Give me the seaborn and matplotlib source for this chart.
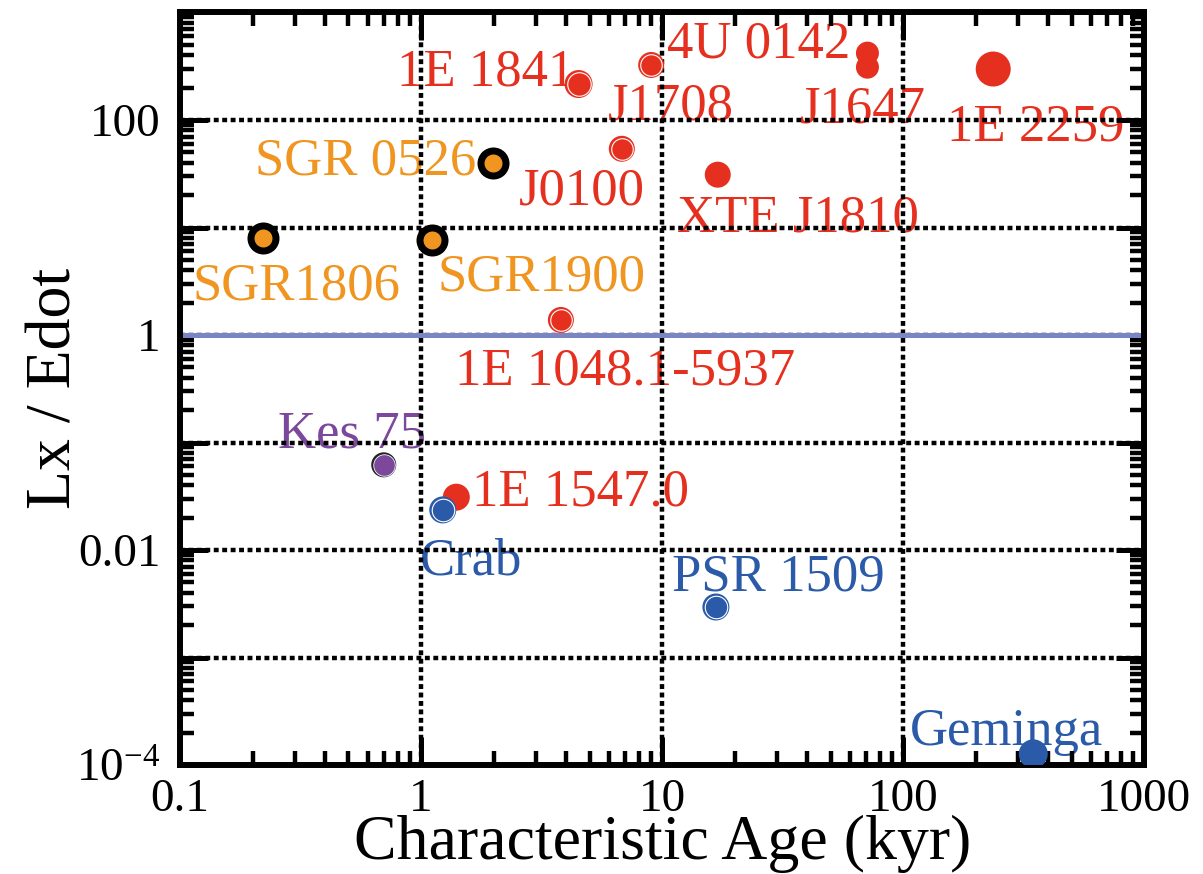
import numpy as np
import pandas as pd
import matplotlib
matplotlib.use("Agg")
import matplotlib.pyplot as plt
import seaborn as sns
from matplotlib.ticker import FixedLocator, FixedFormatter, LogLocator, NullFormatter

# ---------------- data ----------------
names = ["1E 1841", "J1708", "4U 0142", "J1647", "1E 2259", "J0100", "XTE J1810",
         "1E 1048.1-5937", "1E 1547.0", "SGR 0526", "SGR1806", "SGR1900",
         "Kes 75", "Crab", "PSR 1509", "Geminga"]
ages = [4.5, 9.0, 71, 71, 236, 6.8, 17, 3.8, 1.4, 1.99, 0.221, 1.11, 0.70, 1.23, 16.7, 346]
ratios = [216, 325, 419, 310, 298, 54, 31, 1.38, 0.031, 40, 8.0, 7.65, 0.062, 0.0236, 0.00295, 1.27e-4]
classes = ["AXP"] * 9 + ["SGR"] * 3 + ["HBPSR"] + ["RPP"] * 3

x_ticks = [0.1, 1, 10, 100, 1000]
x_tick_labels = ["0.1", "1", "10", "100", "1000"]
y_ticks = [1e-4, 1e-3, 1e-2, 1e-1, 1, 10, 100, 1000]
y_tick_labels = [r"$10^{-4}$", "", "0.01", "", "1", "", "100", ""]

df = pd.DataFrame({"name": names, "age": ages, "ratio": ratios, "cls": classes})

# ---------------- style ----------------
sns.set_theme(style="white")
plt.rcParams["font.family"] = ["Liberation Serif", "DejaVu Serif"]
plt.rcParams["mathtext.fontset"] = "custom"
plt.rcParams["mathtext.rm"] = "Liberation Serif"
plt.rcParams["mathtext.it"] = "Liberation Serif:italic"
for key in ["text.color", "axes.labelcolor", "xtick.color", "ytick.color", "axes.edgecolor"]:
    plt.rcParams[key] = "black"

colors = {"AXP": "#e5301f", "SGR": "#ef9520", "HBPSR": "#7b489c", "RPP": "#2a5aa8"}
PX = 0.72  # points per pixel at dpi=100

# marker kind and diameter (px) per source
marker_style = {
    "1E 1841": ("ring", 28), "J1708": ("ring", 26), "4U 0142": ("plain", 23),
    "J1647": ("plain", 23), "1E 2259": ("plain", 35), "J0100": ("ring", 26),
    "XTE J1810": ("plain", 26), "1E 1048.1-5937": ("ring", 26), "1E 1547.0": ("plain", 27),
    "SGR 0526": ("black", 25), "SGR1806": ("black", 25), "SGR1900": ("black", 25),
    "Kes 75": ("edge", 25), "Crab": ("ring", 27), "PSR 1509": ("ring", 27),
    "Geminga": ("plain", 29),
}
# label offsets: (dx px to text centre, dy px baseline below marker)
label_offset = {
    "1E 1841": (-93, 1), "J1708": (20, 55), "4U 0142": (-109, 4), "J1647": (-5, 55),
    "1E 2259": (42, 71), "J0100": (-40, 56), "XTE J1810": (80, 57),
    "1E 1048.1-5937": (64, 65), "1E 1547.0": (124, 8), "SGR 0526": (-128, 12),
    "SGR1806": (33, 62), "SGR1900": (109, 50), "Kes 75": (-32, -17),
    "Crab": (28, 65), "PSR 1509": (62, -17), "Geminga": (-27, -9),
}

fig = plt.figure(figsize=(12.03, 8.74), dpi=100)
ax = fig.add_axes([0.1496, 0.1247, 0.8017, 0.861])
ax.set_xscale("log")
ax.set_yscale("log")

for _, row in df.iterrows():
    sub = df[df["name"] == row["name"]]
    c = colors[row["cls"]]
    kind, d = marker_style[row["name"]]
    if kind == "plain":
        sns.scatterplot(data=sub, x="age", y="ratio", ax=ax, s=(d * PX) ** 2, color=c,
                        edgecolor="none", linewidth=0, legend=False, zorder=3)
    elif kind == "ring":
        sns.scatterplot(data=sub, x="age", y="ratio", ax=ax, s=(d * PX) ** 2, color=c,
                        edgecolor="none", linewidth=0, legend=False, zorder=3)
        sns.scatterplot(data=sub, x="age", y="ratio", ax=ax, s=((d - 4.5) * PX) ** 2, color=c,
                        edgecolor="white", linewidth=1.1 * PX, legend=False, zorder=3.1)
    elif kind == "black":
        sns.scatterplot(data=sub, x="age", y="ratio", ax=ax, s=(d * PX) ** 2, color=c,
                        edgecolor="black", linewidth=7 * PX, legend=False, zorder=3)
    elif kind == "edge":
        sns.scatterplot(data=sub, x="age", y="ratio", ax=ax, s=(d * PX) ** 2, color="#222222",
                        edgecolor="none", linewidth=0, legend=False, zorder=3)
        sns.scatterplot(data=sub, x="age", y="ratio", ax=ax, s=((d - 3.5) * PX) ** 2, color=c,
                        edgecolor="white", linewidth=0.8 * PX, legend=False, zorder=3.1)
    dx, dy = label_offset[row["name"]]
    ax.annotate(row["name"], (row["age"], row["ratio"]), xytext=(dx * PX, -dy * PX),
                textcoords="offset points", ha="center", va="baseline",
                fontsize=38, color=c, zorder=1)

# reference line Lx = Edot
ax.axhline(1, color="#7a86c4", linewidth=5 * PX, zorder=2)

ax.set_xlim(0.1, 1000)
ax.set_ylim(1e-4, 1e3)

ax.xaxis.set_major_locator(FixedLocator(x_ticks))
ax.xaxis.set_major_formatter(FixedFormatter(x_tick_labels))
ax.yaxis.set_major_locator(FixedLocator(y_ticks))
ax.yaxis.set_major_formatter(FixedFormatter(y_tick_labels))
for axis in (ax.xaxis, ax.yaxis):
    axis.set_minor_locator(LogLocator(base=10, subs=np.arange(2, 10), numticks=20))
    axis.set_minor_formatter(NullFormatter())

ax.tick_params(which="both", direction="in", top=True, right=True, bottom=True, left=True,
               color="black")
ax.tick_params(which="major", length=20, width=3.6, labelsize=34)
ax.tick_params(axis="x", which="major", pad=10)
ax.tick_params(axis="y", which="major", pad=14)
ax.tick_params(which="minor", length=10, width=3.2)

ax.set_axisbelow("line")
ax.grid(True, which="major", color="black", linestyle=(0, (1.1, 0.8)), linewidth=3.2)
ax.grid(False, which="minor")

for sp in ax.spines.values():
    sp.set_linewidth(4.3)
    sp.set_color("black")

ax.set_xlabel("Characteristic Age (kyr)", fontsize=46, labelpad=-5)
ax.set_ylabel("Lx / Edot", fontsize=46, labelpad=-6)

fig.savefig("out.png", dpi=100)
